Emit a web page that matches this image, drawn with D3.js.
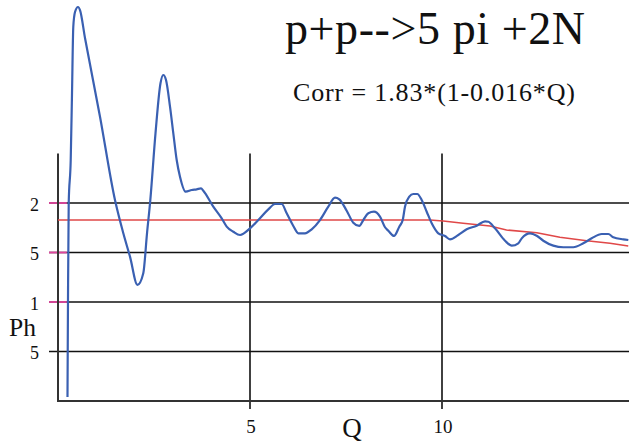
<!DOCTYPE html>
<html>
<head>
<meta charset="utf-8">
<script src="https://cdn.jsdelivr.net/npm/d3@7"></script>
<style>
  html, body { margin: 0; padding: 0; background: #fff; }
  svg { display: block; }
  text { font-family: "Liberation Serif", "Times New Roman", serif; fill: #111; }
</style>
</head>
<body>
<svg id="chart" width="629" height="447"></svg>
<script>
// ---- data ----
const titleText = "p+p-->5 pi +2N";
const corrText = "Corr = 1.83*(1-0.016*Q)";
const xLabel = "Q";
const yLabel = "Ph";
const xTickValues = [5, 10];
const xTickLabels = ["5", "10"];
const yTickValues = [2, 1.5, 1, 0.5];
const yTickLabels = ["2", "5", "1", "5"];
const pinkTicks = [2, 1.5, 1];

const phQ = [0.247,0.26,0.279,0.331,0.365,0.398,0.443,0.521,0.573,0.703,1.094,1.484,1.701,1.875,2.07,2.221,2.318,2.404,2.539,2.669,2.742,2.813,2.917,3.003,3.091,3.177,3.326,3.482,3.612,3.724,3.784,4.044,4.263,4.393,4.565,4.74,5.0,5.216,5.477,5.651,5.826,5.956,6.128,6.258,6.432,6.607,6.823,7.039,7.214,7.326,7.518,7.69,7.846,7.951,8.081,8.229,8.385,8.516,8.602,8.75,8.888,8.977,9.036,9.148,9.253,9.357,9.471,9.602,9.732,9.904,10.078,10.208,10.424,10.643,10.904,11.12,11.206,11.38,11.641,11.815,11.987,12.076,12.292,12.466,12.638,12.898,13.159,13.419,13.68,13.898,14.159,14.331,14.461,14.721,14.852];
const phVal = [0.04,1.01,2.0,2.434,3.111,3.778,3.929,3.98,3.949,3.667,2.872,2.03,1.694,1.458,1.172,1.29,1.694,2.03,2.704,3.209,3.293,3.242,2.973,2.704,2.434,2.266,2.114,2.131,2.138,2.148,2.124,1.963,1.845,1.761,1.71,1.677,1.744,1.828,1.936,1.99,1.99,1.896,1.768,1.694,1.694,1.734,1.828,1.963,2.054,2.037,1.922,1.801,1.768,1.828,1.896,1.912,1.862,1.755,1.72,1.667,1.761,1.828,1.963,2.064,2.091,2.091,2.03,1.912,1.795,1.694,1.667,1.633,1.677,1.734,1.771,1.815,1.811,1.744,1.619,1.569,1.593,1.643,1.694,1.67,1.619,1.569,1.553,1.553,1.593,1.643,1.687,1.687,1.654,1.633,1.626];

const corrQ = [0, 9.69, 10.03, 10.55, 11.25, 11.68, 12.47, 13.07, 13.77, 14.375, 14.85];
const corrVal = [1.828, 1.828, 1.818, 1.795, 1.768, 1.727, 1.70, 1.654, 1.619, 1.593, 1.566];

// ---- drawing ----
const svg = d3.select("#chart");
const x = d3.scaleLinear().domain([0, 15]).range([58, 634]);
const y = d3.scaleLinear().domain([0, 2.5]).range([401, 153.5]);
const xMax = 14.87;

// horizontal grid lines
svg.append("g").selectAll("line").data(yTickValues).join("line")
  .attr("x1", x(0) - 9).attr("x2", x(xMax))
  .attr("y1", d => y(d)).attr("y2", d => y(d))
  .attr("stroke", "#111").attr("stroke-width", 1.6);

// vertical grid lines with ticks below axis
svg.append("g").selectAll("line").data(xTickValues).join("line")
  .attr("x1", d => x(d)).attr("x2", d => x(d))
  .attr("y1", y(2.5)).attr("y2", y(0) + 8)
  .attr("stroke", "#111").attr("stroke-width", 1.6);

// pink tick marks
svg.append("g").selectAll("line").data(pinkTicks).join("line")
  .attr("x1", x(0) - 9).attr("x2", x(0.23))
  .attr("y1", d => y(d)).attr("y2", d => y(d))
  .attr("stroke", "#e0449e").attr("stroke-width", 1.8);

// axes
svg.append("line").attr("x1", x(0)).attr("x2", x(0))
  .attr("y1", y(2.5)).attr("y2", y(0))
  .attr("stroke", "#333").attr("stroke-width", 2);
svg.append("line").attr("x1", x(0) - 1).attr("x2", x(xMax))
  .attr("y1", y(0)).attr("y2", y(0))
  .attr("stroke", "#333").attr("stroke-width", 2);

// correction line
const corrData = corrQ.map((q, i) => [q, corrVal[i]]);
svg.append("path").datum(corrData)
  .attr("fill", "none").attr("stroke", "#e04848").attr("stroke-width", 1.6)
  .attr("d", d3.line().x(d => x(d[0])).y(d => y(d[1])));

// Ph curve
const phData = phQ.map((q, i) => [q, phVal[i]]);
svg.append("path").datum(phData)
  .attr("fill", "none").attr("stroke", "#3a60b2").attr("stroke-width", 2.2)
  .attr("stroke-linejoin", "round")
  .attr("d", d3.line().x(d => x(d[0])).y(d => y(d[1])).curve(d3.curveMonotoneX));

// y tick labels
svg.append("g").selectAll("text").data(yTickValues).join("text")
  .attr("x", 39).attr("y", d => y(d) + 7.5)
  .attr("text-anchor", "end").attr("font-size", 18)
  .text((d, i) => yTickLabels[i]);

// x tick labels
svg.append("g").selectAll("text").data(xTickValues).join("text")
  .attr("x", d => x(d) + 1).attr("y", 433)
  .attr("text-anchor", "middle").attr("font-size", 19)
  .text((d, i) => xTickLabels[i]);

// axis titles
svg.append("text").attr("x", 9).attr("y", 336).attr("font-size", 25.5).text(yLabel);
svg.append("text").attr("x", 352).attr("y", 437).attr("text-anchor", "middle").attr("font-size", 27).text(xLabel);

// titles
svg.append("text").attr("x", 285).attr("y", 44).attr("font-size", 46)
  .attr("textLength", 300).attr("lengthAdjust", "spacing").text(titleText);
svg.append("text").attr("x", 293).attr("y", 101).attr("font-size", 26)
  .attr("textLength", 282).attr("lengthAdjust", "spacing").text(corrText);
</script>
</body>
</html>
